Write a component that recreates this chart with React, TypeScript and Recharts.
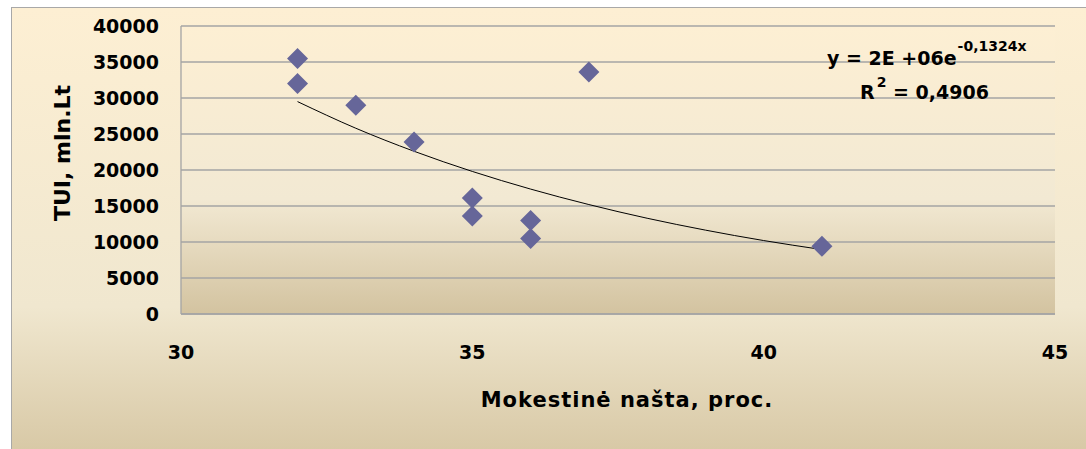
import React from 'react'
import {
  ComposedChart,
  Scatter,
  Line,
  XAxis,
  YAxis,
  CartesianGrid,
  Customized,
} from 'recharts'

// Mokestinė našta (x) vs TUI (y)
const taxBurden = [32, 32, 33, 34, 35, 35, 36, 36, 37, 41]
const tuiValues = [35500, 32000, 29000, 23900, 16100, 13600, 13000, 10500, 33600, 9400]

// exponential trendline
const trendX = [32, 33, 34, 35, 36, 37, 38, 39, 40, 41]
const trendY = [29500, 25800, 22600, 19800, 17350, 15200, 13300, 11650, 10200, 8950]

const xTicks = [30, 35, 40, 45]
const yTicks = [0, 5000, 10000, 15000, 20000, 25000, 30000, 35000, 40000]

const points = taxBurden.map((x, i) => ({ x, y: tuiValues[i] }))
const trend = trendX.map((x, i) => ({ x, y: trendY[i] }))

const FONT = '"DejaVu Sans", Verdana, sans-serif'

function Diamond(props: any) {
  const { cx, cy } = props
  if (cx == null || cy == null) return null
  const r = 10.5
  return (
    <polygon
      points={`${cx},${cy - r} ${cx + r},${cy} ${cx},${cy + r} ${cx - r},${cy}`}
      fill="#666699"
    />
  )
}

function Equation() {
  return (
    <g fontFamily={FONT} fontWeight="bold" fill="#000">
      <text x={827} y={65} fontSize={19}>
        y = 2E +06e
        <tspan fontSize={14} dy={-14} dx={1}>-0,1324x</tspan>
      </text>
      <text x={860} y={99} fontSize={19}>
        R
        <tspan fontSize={14} dy={-12} dx={2}>2</tspan>
        <tspan dy={12}> = 0,4906</tspan>
      </text>
    </g>
  )
}

function YLabel(props: any) {
  const { viewBox } = props
  const cx = 62
  const cy = viewBox.y + viewBox.height / 2 - 17
  return (
    <text
      x={cx}
      y={cy}
      transform={`rotate(-90 ${cx} ${cy})`}
      textAnchor="middle"
      dominantBaseline="central"
      fontFamily={FONT}
      fontWeight="bold"
      fontSize={22}
      fill="#000"
    >
      TUI, mln.Lt
    </text>
  )
}

function XLabel(props: any) {
  const { viewBox } = props
  const cx = viewBox.x + viewBox.width / 2 + 9
  return (
    <text
      x={cx}
      y={400}
      textAnchor="middle"
      dominantBaseline="central"
      fontFamily={FONT}
      fontWeight="bold"
      fontSize={21}
      letterSpacing={1}
      fill="#000"
    >
      Mokestinė našta, proc.
    </text>
  )
}

export default function App() {
  return (
    <div
      style={{
        position: 'absolute',
        left: 0,
        top: 0,
        width: 1086,
        height: 449,
        overflow: 'hidden',
        background: '#fff',
      }}
    >
      <svg width={0} height={0} style={{ position: 'absolute' }}>
        <defs>
          <linearGradient id="plotGrad" x1="0" y1="0" x2="0" y2="1">
            <stop offset="0%" stopColor="#fdefd3" />
            <stop offset="60%" stopColor="#f2e9d3" />
            <stop offset="100%" stopColor="#d3c3a0" />
          </linearGradient>
        </defs>
      </svg>
      <div
        style={{
          position: 'absolute',
          left: 11,
          top: 7,
          width: 1100,
          height: 460,
          borderLeft: '1px solid #a8a8a8',
          borderTop: '1px solid #a8a8a8',
          background:
            'linear-gradient(to bottom, #fdefd3 0%, #f0e7cf 65%, #d5c5a1 100%)',
        }}
      />
      <div style={{ position: 'absolute', left: 0, top: 0 }}>
        <ComposedChart
          width={1086}
          height={449}
          margin={{ top: 26, right: 31, bottom: 0, left: 0 }}
        >
          <CartesianGrid
            vertical={false}
            stroke="#a4a4a4"
            strokeWidth={1.3}
            fill="url(#plotGrad)"
            fillOpacity={1}
          />
          <XAxis
            type="number"
            dataKey="x"
            domain={[30, 45]}
            ticks={xTicks}
            height={135}
            tickSize={0}
            tickMargin={32}
            axisLine={{ stroke: '#a4a4a4', strokeWidth: 1.3 }}
            tick={{ fontSize: 19, fontFamily: FONT, fontWeight: 'bold', fill: '#000' }}
            label={<XLabel />}
            allowDataOverflow
          />
          <YAxis
            type="number"
            dataKey="y"
            domain={[0, 40000]}
            ticks={yTicks}
            width={181}
            tickSize={0}
            tickMargin={22}
            axisLine={{ stroke: '#a4a4a4', strokeWidth: 1.3 }}
            tick={{ fontSize: 19, fontFamily: FONT, fontWeight: 'bold', fill: '#000' }}
            label={<YLabel />}
          />
          <Line
            data={trend}
            dataKey="y"
            type="monotone"
            stroke="#000"
            strokeWidth={1}
            dot={false}
            activeDot={false}
            isAnimationActive={false}
          />
          <Scatter
            data={points}
            dataKey="y"
            shape={<Diamond />}
            isAnimationActive={false}
          />
          <Customized component={<Equation />} />
        </ComposedChart>
      </div>
    </div>
  )
}
